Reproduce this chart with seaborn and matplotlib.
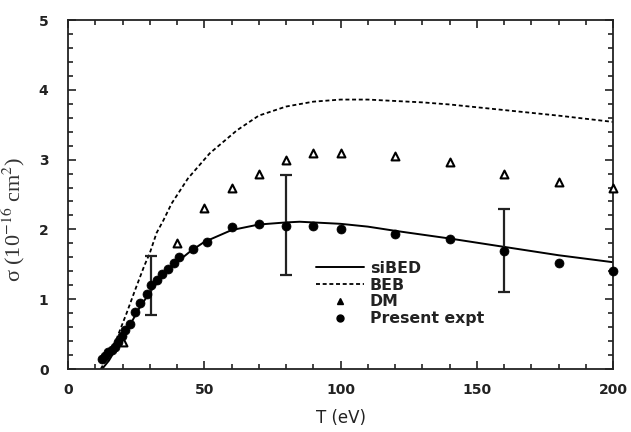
import matplotlib
matplotlib.use("Agg")
import matplotlib.pyplot as plt
import seaborn as sns
import numpy as np
import pandas as pd
from matplotlib.ticker import MultipleLocator
from matplotlib.lines import Line2D

# ---- data ----
sibed_T = [12.5, 15, 17, 20, 23, 26, 30, 35, 40, 45, 50, 60, 70, 80, 85, 90, 100, 110, 120, 140, 160, 180, 200]
sibed_s = [0.0, 0.12, 0.25, 0.42, 0.65, 0.86, 1.10, 1.35, 1.53, 1.69, 1.82, 1.99, 2.07, 2.10, 2.11, 2.10, 2.08, 2.04, 1.98, 1.87, 1.75, 1.63, 1.53]

beb_T = [12, 15, 18, 21.5, 24.6, 28, 30, 32.5, 35, 38, 44, 52, 62, 70, 80, 90, 100, 110, 120, 130, 140, 160, 180, 200]
beb_s = [0.0, 0.2, 0.45, 0.80, 1.13, 1.48, 1.66, 1.95, 2.13, 2.37, 2.73, 3.09, 3.42, 3.63, 3.76, 3.83, 3.86, 3.86, 3.84, 3.82, 3.79, 3.71, 3.63, 3.54]

dm_T = [20, 40, 50, 60, 70, 80, 90, 100, 120, 140, 160, 180, 200]
dm_s = [0.38, 1.80, 2.31, 2.60, 2.79, 2.99, 3.10, 3.10, 3.05, 2.96, 2.79, 2.68, 2.60]

exp_T = [12.5, 13.5, 14.8, 16, 17.2, 18.5, 19.7, 20.9, 22.8, 24.6, 26.4, 28.8, 30.5, 32.5,
         34.6, 36.6, 38.8, 40.9, 45.7, 50.9, 60, 70, 80, 90, 100, 120, 140, 160, 180, 200]
exp_s = [0.15, 0.18, 0.25, 0.27, 0.31, 0.39, 0.47, 0.56, 0.65, 0.81, 0.94, 1.07, 1.20, 1.27,
         1.36, 1.43, 1.52, 1.61, 1.72, 1.82, 2.04, 2.08, 2.05, 2.05, 2.00, 1.93, 1.86, 1.69, 1.52, 1.40]

err_T = [30.5, 80, 160]
err_s = [1.20, 2.05, 1.69]
err_lo = [0.42, 0.70, 0.59]
err_hi = [0.42, 0.73, 0.60]

x_ticks = [0, 50, 100, 150, 200]
y_ticks = [0, 1, 2, 3, 4, 5]

# ---- plot ----
sns.set_style("ticks")
plt.rcParams['font.family'] = ['DejaVu Sans']
plt.rcParams['mathtext.fontset'] = 'stix'

fig = plt.figure(figsize=(6.31, 4.32), dpi=100)
ax = fig.add_axes([0.1078, 0.1458, 0.8637, 0.8079])

sns.lineplot(x=sibed_T, y=sibed_s, ax=ax, color='black', lw=1.4, label='siBED', sort=False)
sns.lineplot(x=beb_T, y=beb_s, ax=ax, color='black', lw=1.3, label='BEB', sort=False)
ax.lines[-1].set_dashes((2.2, 1.5))
sns.scatterplot(x=dm_T, y=dm_s, ax=ax, marker='^', s=32, facecolor='white',
                edgecolor='black', linewidth=1.5, label='DM', zorder=3, clip_on=False)
sns.scatterplot(x=exp_T, y=exp_s, ax=ax, marker='o', s=42, color='black',
                edgecolor='black', linewidth=0.5, label='Present expt', zorder=4, clip_on=False)
ax.errorbar(err_T, err_s, yerr=[err_lo, err_hi], fmt='none', ecolor='#222222',
            elinewidth=1.6, capsize=4, capthick=1.6, zorder=2)

ax.set_xlim(0, 200)
ax.set_ylim(0, 5)
ax.set_xticks(x_ticks)
ax.set_yticks(y_ticks)
ax.xaxis.set_minor_locator(MultipleLocator(10))
ax.yaxis.set_minor_locator(MultipleLocator(0.2))
ax.tick_params(which='both', direction='in', top=True, right=True, width=1.2, color='#222222')
ax.tick_params(which='major', length=6)
ax.tick_params(which='minor', length=3.5)
ax.tick_params(axis='x', which='major', pad=10)
ax.tick_params(axis='y', which='major', pad=14)
for lab in ax.get_xticklabels() + ax.get_yticklabels():
    lab.set_fontweight('bold')
    lab.set_fontsize(10)
    lab.set_color('#222222')
for sp in ax.spines.values():
    sp.set_linewidth(1.3)
    sp.set_color('#222222')

ax.set_xlabel('T (eV)', fontsize=12, color='#222222', labelpad=9)
ax.set_ylabel(r'σ (10$^{-16}$ cm$^{2}$)', fontsize=16, color='#333333',
              family=['Liberation Serif', 'DejaVu Serif'])
ax.yaxis.set_label_coords(-0.075, 0.43)

handles = [
    Line2D([], [], color='black', lw=1.4),
    Line2D([], [], color='black', lw=1.3, dashes=(2.2, 1.5)),
    Line2D([], [], color='black', marker='^', ls='none', markersize=4),
    Line2D([], [], color='black', marker='o', ls='none', markersize=5),
]
leg = ax.legend(handles, ['siBED', 'BEB', 'DM', 'Present expt'], loc='upper left',
                bbox_to_anchor=(0.44, 0.333), frameon=False, handlelength=3.1,
                labelspacing=0.12, handletextpad=0.35, borderpad=0,
                prop={'weight': 'bold', 'size': 11.3})
for t in leg.get_texts():
    t.set_color('#222222')

fig.savefig('out.png', dpi=100)
